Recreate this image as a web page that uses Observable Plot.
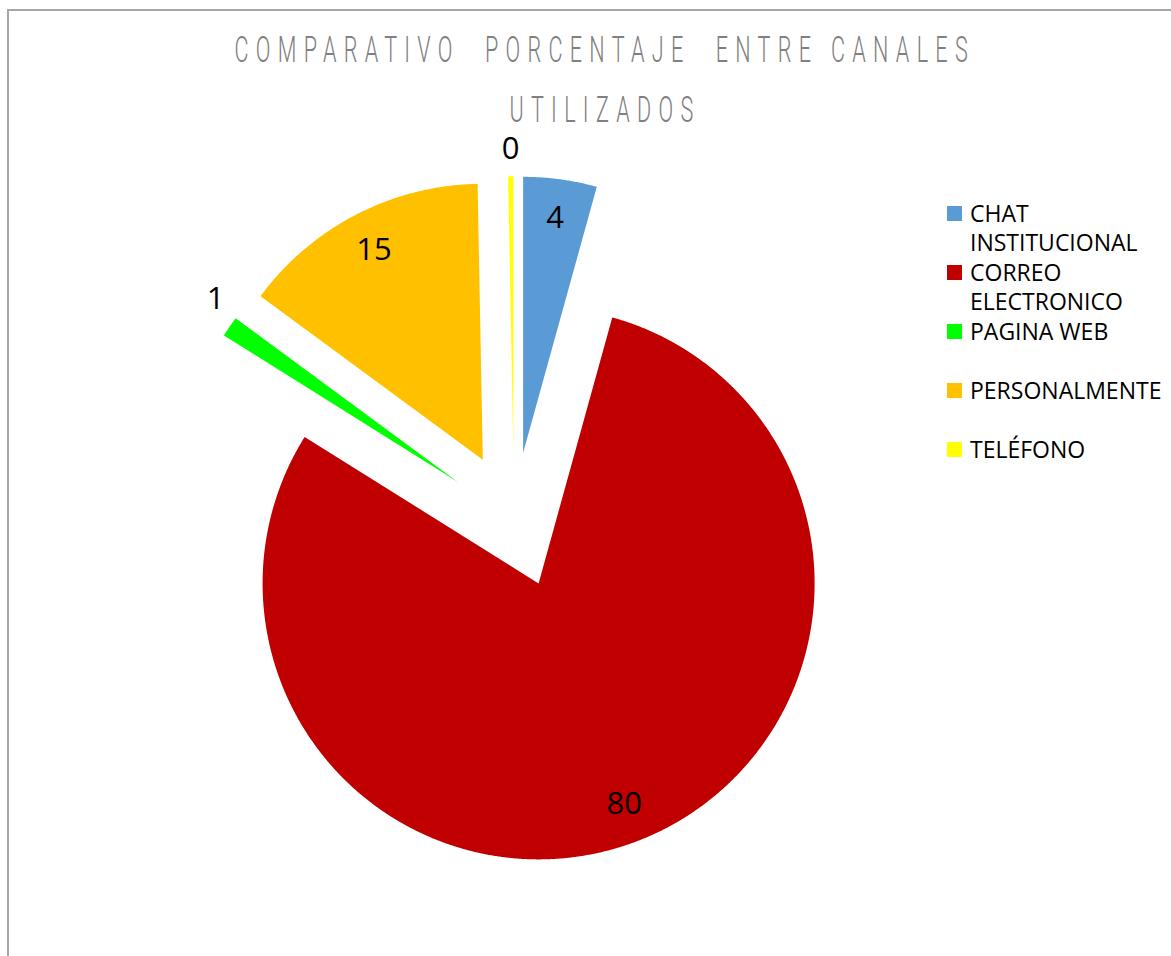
<!DOCTYPE html>
<html>
<head>
<meta charset="utf-8">
<script src="https://cdn.jsdelivr.net/npm/d3@7"></script>
<script src="https://cdn.jsdelivr.net/npm/@observablehq/plot@0.6"></script>
<style>
  html, body { margin: 0; padding: 0; background: #fff; }
  #wrap { position: relative; width: 1171px; height: 956px; overflow: hidden; background: #fff; }
  #frame { position: absolute; left: 7px; top: 9px; right: -10px; bottom: -10px;
           border-left: 2px solid #a6a6a6; border-top: 2px solid #a6a6a6; }
  #chart { position: absolute; left: 0; top: 0; }
  .tline { position: absolute; left: -899px; width: 3000px; text-align: center; white-space: pre; }
  .tline span { display: inline-block; font-family: Roboto, "Open Sans", sans-serif; font-weight: 300;
                font-size: 36px; line-height: 40px; color: #808080; transform-origin: 50% 50%; }
  #legend { position: absolute; left: 947px; top: 0; font-family: "Open Sans", sans-serif;
            font-size: 23px; line-height: 29px; color: #000; }
  .item { position: absolute; left: 0; width: 235px; padding-left: 23px; box-sizing: border-box; }
  .sw { position: absolute; left: 0; top: 7px; width: 15px; height: 15px; }
</style>
</head>
<body>
<div id="wrap">
  <div id="frame"></div>
  <div id="chart"></div>
  <div class="tline" id="t1" style="top:30px"><span></span></div>
  <div class="tline" id="t2" style="top:90px"><span></span></div>
  <div id="legend"></div>
</div>
<script>
// ---- data ----
const tituloLinea1 = "COMPARATIVO  PORCENTAJE  ENTRE CANALES";
const tituloLinea2 = "UTILIZADOS";
const canales = ["CHAT INSTITUCIONAL", "CORREO ELECTRONICO", "PAGINA WEB", "PERSONALMENTE", "TELÉFONO"];
const porcentajes = [4.3, 79.6, 1.2, 14.6, 0.3];
const colores = ["#5B9BD5", "#C00000", "#00FF00", "#FFC000", "#FFFF00"];

// ---- layout constants (pixels) ----
const W = 1171, H = 956;
const R = 276;                 // pie radius in px
const cx = 513.5, cy = 519.6;  // pie centre in px
const explode = 0.246;         // explosion as fraction of radius
const xDomain = [-cx / R, (W - cx) / R];
const yDomain = [(cy - H) / R, cy / R];

const fmt = d3.format(".0f");
const arcs = d3.pie().sort(null).value(d => d)(porcentajes);

const slices = arcs.map((a, i) => {
  const mid = (a.startAngle + a.endAngle) / 2;
  const ox = explode * Math.sin(mid), oy = explode * Math.cos(mid);
  const pts = [{x: ox, y: oy}];
  const step = Math.PI / 720;
  const n = Math.max(2, Math.ceil((a.endAngle - a.startAngle) / step));
  for (let k = 0; k <= n; k++) {
    const t = a.startAngle + (a.endAngle - a.startAngle) * k / n;
    pts.push({x: ox + Math.sin(t), y: oy + Math.cos(t)});
  }
  const inside = porcentajes[i] >= 2;
  const lr = inside ? 0.857 : 1.10;
  const la = inside ? mid : mid + (porcentajes[i] >= 1 ? 0.05 : 0);
  return {
    points: pts, color: colores[i],
    label: {x: ox + lr * Math.sin(la), y: oy + lr * Math.cos(la), text: fmt(porcentajes[i])}
  };
});

const plot = Plot.plot({
  width: W, height: H, margin: 0,
  x: {domain: xDomain, axis: null},
  y: {domain: yDomain, axis: null},
  style: {background: "transparent", overflow: "visible"},
  marks: [
    ...slices.map(s => Plot.line(s.points, {x: "x", y: "y", fill: s.color, stroke: "none", curve: "linear-closed"})),
    Plot.text(slices.map(s => s.label), {x: "x", y: "y", text: "text", fontSize: 31,
      fontFamily: "'Open Sans', sans-serif", fill: "#000"})
  ]
});
document.getElementById("chart").appendChild(plot);

// ---- title ----
const sx = 0.6;
const s1 = document.querySelector("#t1 span");
const s2 = document.querySelector("#t2 span");
s1.textContent = tituloLinea1;
s2.textContent = tituloLinea2;
const w0 = s1.offsetWidth;
const n1 = tituloLinea1.length;
const L = Math.max(0, (733 / sx - w0) / (n1 - 1));
[s1, s2].forEach(s => {
  s.style.letterSpacing = L + "px";
  s.style.paddingLeft = L + "px";
  s.style.transform = `scaleX(${sx})`;
});

// ---- legend ----
const legend = document.getElementById("legend");
canales.forEach((c, i) => {
  const it = document.createElement("div");
  it.className = "item";
  it.style.top = (199 + i * 59) + "px";
  const sw = document.createElement("div");
  sw.className = "sw";
  sw.style.background = colores[i];
  it.appendChild(sw);
  it.appendChild(document.createTextNode(c));
  legend.appendChild(it);
});
</script>
</body>
</html>
